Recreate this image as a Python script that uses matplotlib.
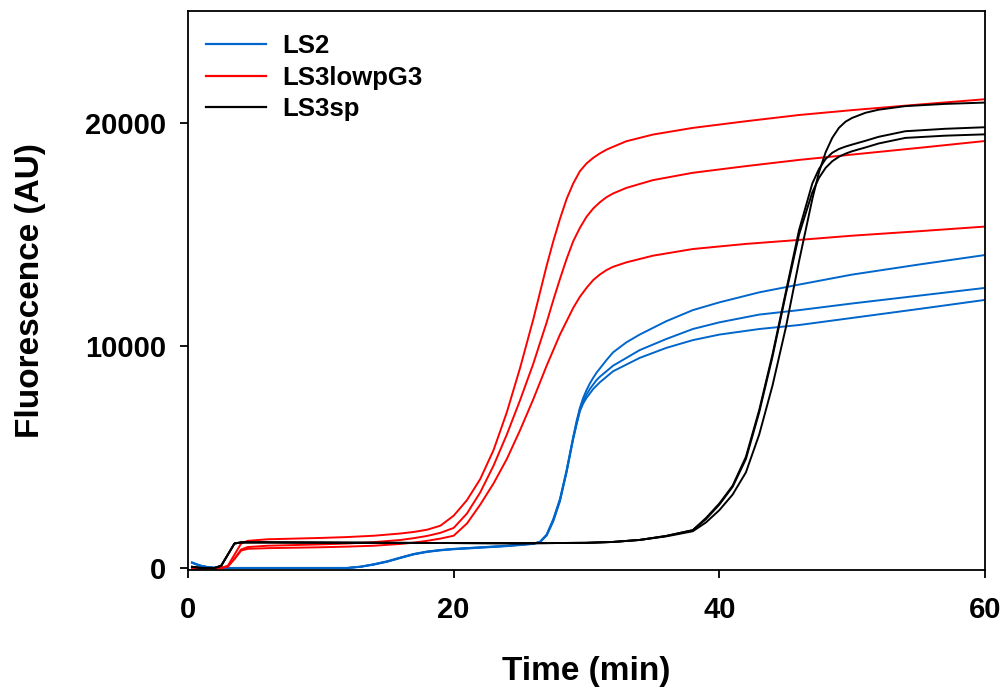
import matplotlib
matplotlib.use("Agg")
import matplotlib.pyplot as plt

# ---------------- data ----------------
# LS2 (blue) time grid and three replicate curves
t_ls2 = [0.3, 0.6, 1, 1.5, 2, 3, 5, 8, 11, 12, 13, 14, 15, 16, 17, 18, 19, 20, 22, 24,
         26, 26.5, 27, 27.5, 28, 28.5, 28.75, 29, 29.25, 29.5, 29.75, 30, 30.25, 30.5, 30.75, 31,
         31.5, 32, 33, 34, 36, 38, 40, 43, 46, 50, 55, 60]
ls2_a = [250, 180, 100, 40, 10, 0, 0, 0, 0, 0, 60, 170, 300, 470, 630, 740, 810, 860, 930, 1000,
         1100, 1180, 1500, 2200, 3100, 4400, 5150, 5900, 6600, 7200, 7650, 8000, 8300, 8550, 8780, 8970,
         9350, 9700, 10150, 10500, 11100, 11600, 11950, 12400, 12750, 13200, 13650, 14080]
ls2_b = [240, 170, 90, 35, 5, 0, 0, 0, 0, 0, 55, 160, 290, 460, 620, 730, 800, 850, 920, 990,
         1090, 1170, 1480, 2150, 3050, 4350, 5100, 5850, 6500, 7100, 7500, 7800, 8050, 8250, 8450, 8600,
         8850, 9100, 9450, 9800, 10300, 10750, 11050, 11400, 11600, 11900, 12250, 12600]
ls2_c = [230, 160, 80, 30, 0, 0, 0, 0, 0, 0, 50, 150, 280, 450, 610, 720, 790, 840, 910, 980,
         1080, 1160, 1460, 2100, 3000, 4300, 5050, 5800, 6450, 7050, 7400, 7650, 7850, 8050, 8200, 8350,
         8600, 8850, 9150, 9450, 9900, 10250, 10500, 10750, 10930, 11250, 11650, 12060]

# LS3lowpG3 (red)
t_lowp = [0.3, 1, 2, 2.5, 3, 3.5, 4, 4.5, 6, 8, 10, 12, 14, 16, 17, 18, 19, 20, 21, 22,
          23, 24, 25, 26, 27, 27.5, 28, 28.5, 29, 29.5, 30, 30.5, 31, 31.5, 32, 33, 35, 38,
          42, 46, 50, 55, 60]
lowp_a = [-50, -30, -20, 0, 100, 600, 1100, 1220, 1290, 1320, 1350, 1390, 1450, 1550, 1620, 1720, 1900, 2350, 3050, 4000,
          5300, 7000, 9000, 11200, 13600, 14700, 15700, 16600, 17300, 17850, 18200, 18450, 18650, 18820, 18950, 19200, 19500, 19800,
          20100, 20380, 20600, 20850, 21090]
lowp_b = [-50, -30, -20, 0, 70, 420, 830, 940, 1000, 1030, 1060, 1100, 1160, 1260, 1340, 1440, 1580, 1800, 2450, 3400,
          4600, 6000, 7550, 9200, 11050, 12050, 13000, 13900, 14700, 15300, 15800, 16170, 16450, 16680, 16850, 17100, 17450, 17780,
          18080, 18360, 18600, 18900, 19210]
lowp_c = [-50, -30, -20, 0, 60, 400, 780, 860, 890, 910, 930, 960, 1000, 1080, 1140, 1220, 1320, 1450, 2000, 2850,
          3800, 4900, 6200, 7600, 9100, 9800, 10500, 11100, 11700, 12200, 12600, 12950, 13200, 13400, 13550, 13750, 14050, 14350,
          14580, 14760, 14950, 15150, 15360]

# LS3sp (black)
t_sp = [0.3, 1, 2, 2.5, 3, 3.5, 4, 6, 10, 15, 20, 25, 30, 32, 34, 36, 38, 39, 40, 41,
        42, 43, 44, 45, 46, 47, 47.5, 48, 48.5, 49, 49.5, 50, 51, 52, 54, 57, 60]
sp_a = [50, 0, 0, 100, 600, 1100, 1150, 1150, 1140, 1130, 1120, 1110, 1130, 1170, 1260, 1420, 1650, 2050, 2600, 3300,
        4300, 6000, 8200, 10800, 13800, 16600, 17800, 18700, 19350, 19800, 20080, 20250, 20480, 20620, 20780, 20880, 20940]
sp_b = [50, 0, 0, 100, 600, 1100, 1150, 1150, 1140, 1130, 1120, 1110, 1130, 1170, 1260, 1440, 1700, 2250, 2900, 3700,
        5000, 7100, 9600, 12400, 15200, 17300, 17950, 18400, 18680, 18850, 18960, 19050, 19220, 19400, 19650, 19760, 19830]
sp_c = [50, 0, 0, 100, 600, 1100, 1150, 1150, 1140, 1130, 1120, 1110, 1130, 1170, 1260, 1440, 1700, 2200, 2850, 3650,
        4900, 7000, 9500, 12300, 15000, 16900, 17550, 18000, 18300, 18500, 18640, 18750, 18920, 19100, 19350, 19450, 19510]

series_labels = ["LS2", "LS3lowpG3", "LS3sp"]
x_ticks = [0, 20, 40, 60]
y_ticks = [0, 10000, 20000]

# ---------------- plotting ----------------
plt.rcParams['font.family'] = ['Liberation Sans', 'DejaVu Sans']
plt.rcParams['font.weight'] = 'bold'

fig = plt.figure(figsize=(10.06, 6.90), dpi=100)
ax = fig.add_axes([188 / 1006, 1 - 569.5 / 690, (985 - 188) / 1006, (569.5 - 11) / 690])

blue = '#0066CC'
red = '#FF0000'
lw = 1.4

groups = [
    (t_ls2, [ls2_a, ls2_b, ls2_c], blue, series_labels[0]),
    (t_lowp, [lowp_a, lowp_b, lowp_c], red, series_labels[1]),
    (t_sp, [sp_a, sp_b, sp_c], 'black', series_labels[2]),
]
for t, ys, col, lab in groups:
    for i, y in enumerate(ys):
        ax.plot(t, y, color=col, lw=lw, label=lab if i == 0 else None, solid_joinstyle='round')

ax.set_xlim(0, 60)
ax.set_ylim(-70, 25060)
ax.set_xticks(x_ticks)
ax.set_yticks(y_ticks)
ax.set_xticklabels([str(v) for v in x_ticks])
ax.set_yticklabels([str(v) for v in y_ticks])

for s in ax.spines.values():
    s.set_linewidth(1.3)
ax.tick_params(direction='out', length=6, width=1.3, labelsize=21, pad=10)
for lbl in ax.get_xticklabels() + ax.get_yticklabels():
    lbl.set_fontweight('bold')
ax.tick_params(axis='x', pad=13)

ax.set_xlabel('Time (min)', fontsize=24, fontweight='bold', labelpad=23)
ax.set_ylabel('Fluorescence (AU)', fontsize=24, fontweight='bold', labelpad=28)

leg = ax.legend(loc='upper left', bbox_to_anchor=(0.022, 0.958), frameon=False,
                borderaxespad=0, borderpad=0, handlelength=2.35, handletextpad=0.62,
                labelspacing=0.28, prop={'size': 18.5, 'weight': 'bold'})
for h in leg.get_lines():
    h.set_linewidth(1.6)

fig.savefig('out.png', dpi=100)
